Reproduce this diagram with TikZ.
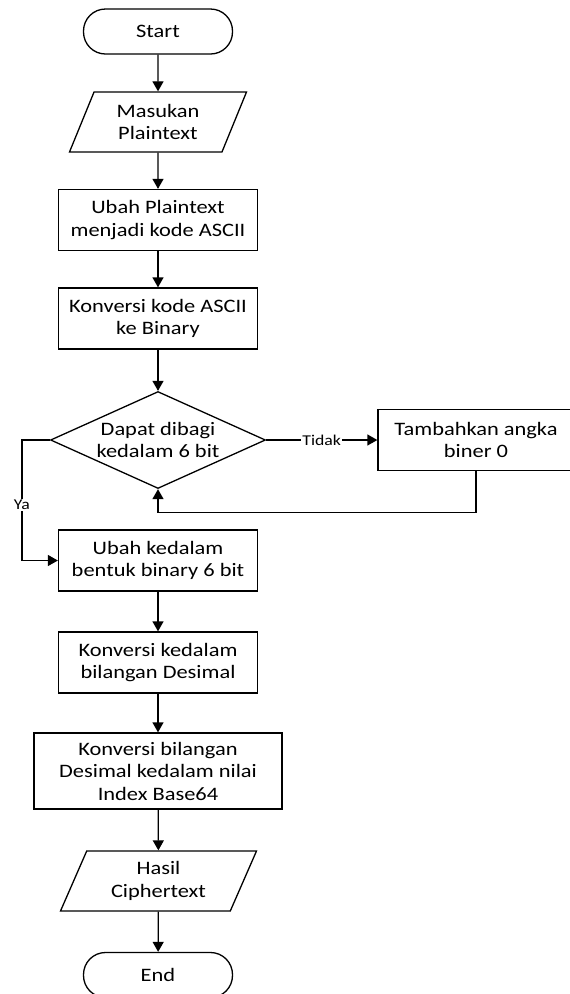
\documentclass[tikz,border=0pt]{standalone}
\usepackage{fontspec}
\setmainfont{Carlito}[FakeStretch=1.18]
\usepackage{tikz}
\usetikzlibrary{arrows.meta,positioning,shapes.geometric}

\begin{document}
\begin{tikzpicture}[x=1pt,y=-1pt,line width=1.3pt,
  every node/.style={font=\fontsize{19}{22.5}\selectfont,align=center},
  term/.style={draw,rounded corners=22pt,minimum width=149pt,minimum height=45pt},
  proc/.style={draw,minimum width=199pt,minimum height=61pt},
  io/.style={draw,trapezium,trapezium left angle=60,trapezium right angle=120,trapezium stretches body,minimum width=177pt,minimum height=60pt},
  cond/.style={draw,diamond,aspect=2.2,inner sep=0pt,minimum width=215pt,minimum height=97pt},
  lbl/.style={font=\fontsize{15}{16}\selectfont,fill=white,inner sep=1pt},
  flow/.style={-{Triangle[length=10pt,width=11pt]}}]
  \useasboundingbox (0,0) rectangle (570,994);

  % Main flow
  \node[term] (start) at (158,31.5) {Start};
  \node[io] (plain) at (158,122) {Masukan\\Plaintext};
  \node[proc] (ascii) at (158,220) {Ubah Plaintext\\menjadi kode ASCII};
  \node[proc] (bin) at (158,318.5) {Konversi kode ASCII\\ke Binary};
  \node[cond] (check) at (158,440) {Dapat dibagi\\kedalam 6 bit};
  \node[proc,minimum width=196pt] (pad) at (476,440) {Tambahkan angka\\biner 0};
  \node[proc] (six) at (158,560.5) {Ubah kedalam\\bentuk binary 6 bit};
  \node[proc] (dec) at (158,662.5) {Konversi kedalam\\bilangan Desimal};
  \node[proc,minimum width=248pt,minimum height=76pt] (idx) at (158,771) {Konversi bilangan\\Desimal kedalam nilai\\Index Base64};
  \node[io,minimum width=196pt] (cipher) at (158.5,881) {Hasil\\Ciphertext};
  \node[term] (stop) at (158,975) {End};

  \draw[flow] (start) -- (plain);
  \draw[flow] (plain) -- (ascii);
  \draw[flow] (ascii) -- (bin);
  \draw[flow] (bin) -- (check);
  \draw[flow] (six) -- (dec);
  \draw[flow] (dec) -- (idx);
  \draw[flow] (idx) -- (cipher);
  \draw[flow] (cipher) -- (stop);

  % Branches
  \draw[flow] (check.east) -- node[lbl] {Tidak} (pad.west);
  \draw[flow] (pad.south) -- ++(0,41) -| (check.south);
  \draw[flow] (check.west) -- ++(-28,0) |- node[lbl,pos=0.27] {Ya} (six.west);
\end{tikzpicture}
\end{document}
